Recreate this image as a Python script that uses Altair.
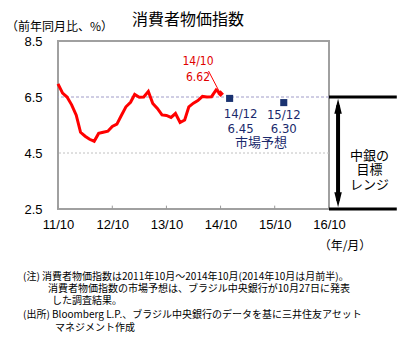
import altair as alt
import pandas as pd

# ---- data ----
months = ["2011-10", "2011-11", "2011-12",
          "2012-01", "2012-02", "2012-03", "2012-04", "2012-05", "2012-06",
          "2012-07", "2012-08", "2012-09", "2012-10", "2012-11", "2012-12",
          "2013-01", "2013-02", "2013-03", "2013-04", "2013-05", "2013-06",
          "2013-07", "2013-08", "2013-09", "2013-10", "2013-11", "2013-12",
          "2014-01", "2014-02", "2014-03", "2014-04", "2014-05", "2014-06",
          "2014-07", "2014-08", "2014-09", "2014-10"]
cpi = [6.97, 6.64, 6.50,
       6.22, 5.85, 5.24, 5.10, 4.99, 4.92,
       5.20, 5.24, 5.28, 5.45, 5.53, 5.84,
       6.15, 6.31, 6.59, 6.49, 6.50, 6.70,
       6.27, 6.09, 5.86, 5.84, 5.77, 5.91,
       5.59, 5.68, 6.15, 6.28, 6.37, 6.52,
       6.50, 6.51, 6.75, 6.62]

fc_months = ["2014-12", "2015-12"]
fc_values = [6.45, 6.30]
fc_labels = ["14/12\n6.45", "15/12\n6.30"]

year_ticks = ["2011-10", "2012-10", "2013-10", "2014-10", "2015-10", "2016-10"]
y_ticks = [2.5, 4.5, 6.5, 8.5]

target_low, target_high = 2.5, 6.5
band_x = ["2016-10", "2018-01"]
arrow_x = "2016-12"
band_text_x = "2017-07"

title = "消費者物価指数"
unit = "（前年同月比、%）"
xunit = "（年/月）"
notes = ["(注) 消費者物価指数は2011年10月～2014年10月(2014年10月は月前半)。",
         "消費者物価指数の市場予想は、ブラジル中央銀行が10月27日に発表",
         "した調査結果。",
         "(出所) Bloomberg L.P.、ブラジル中央銀行のデータを基に三井住友アセット",
         "マネジメント作成"]

W, H = 271, 168
JP = "Noto Sans CJK JP"
NUM = "Liberation Sans"
NARROW = "Liberation Sans Narrow, DejaVu Sans Condensed, Liberation Sans"

def d(m):
    return m + "-01"

df = pd.DataFrame({"date": [d(m) for m in months], "cpi": cpi})
fc = pd.DataFrame({"date": [d(m) for m in fc_months], "v": fc_values, "lab": fc_labels})
ticks_df = pd.DataFrame({"date": [d(m) for m in year_ticks]})

xscale = alt.Scale(type="utc", domain=[alt.DateTime(year=2011, month=10, date=1, utc=True),
                                      alt.DateTime(year=2016, month=10, date=1, utc=True)])
yscale = alt.Scale(domain=[2.5, 8.5], nice=False, zero=False)

X = alt.X("date:T", scale=xscale, title=None,
          axis=alt.Axis(values=[alt.DateTime(year=int(m[:4]), month=int(m[5:]), date=1, utc=True)
                                for m in year_ticks],
                        labelExpr="utcFormat(datum.value, '%y/%m')",
                        ticks=False, domain=False, grid=False, labelPadding=9,
                        labelFlush=False, labelOverlap=False,
                        labelFont=NUM, labelFontSize=13, labelColor="#000"))
Y = alt.Y("cpi:Q", scale=yscale, title=None,
          axis=alt.Axis(values=y_ticks, format=".1f", ticks=False, domain=False, grid=False,
                        labelFlush=False, labelOverlap=False,
                        labelPadding=16, labelFont=NUM, labelFontSize=13, labelColor="#000"))

base = alt.Chart(df)

grid65 = alt.Chart(pd.DataFrame({"y": [6.5]})).mark_rule(
    color="#a09cc8", strokeDash=[3, 2], strokeWidth=1).encode(y=alt.Y("y:Q", scale=yscale))
grid45 = alt.Chart(pd.DataFrame({"y": [4.5]})).mark_rule(
    color="#c0c0c0", strokeDash=[2, 2], strokeWidth=1).encode(y=alt.Y("y:Q", scale=yscale))

xticks = alt.Chart(ticks_df).mark_rule(color="#999", strokeWidth=1).encode(
    x=alt.X("date:T", scale=xscale), y=alt.datum(2.5), y2=alt.datum(2.62))

line = base.mark_line(color="#ff0000", strokeWidth=3).encode(x=X, y=Y)
endpt = alt.Chart(df.tail(1)).mark_point(shape="diamond", filled=True, size=45,
                                         color="#ff0000", opacity=1).encode(
    x=alt.X("date:T", scale=xscale), y=alt.Y("cpi:Q", scale=yscale))

fc_pts = alt.Chart(fc).mark_square(size=50, color="#1a3270", opacity=1).encode(
    x=alt.X("date:T", scale=xscale), y=alt.Y("v:Q", scale=yscale))
fc_lab1 = alt.Chart(fc.iloc[[0]]).mark_text(
    font=NARROW, fontSize=13, color="#1a2a6c", baseline="top", lineHeight=14.5, lineBreak="\n",
    dx=11, dy=10).encode(x=alt.X("date:T", scale=xscale), y=alt.Y("v:Q", scale=yscale), text="lab:N")
fc_lab2 = alt.Chart(fc.iloc[[1]]).mark_text(
    font=NARROW, fontSize=13, color="#1a2a6c", baseline="top", lineHeight=14.5, lineBreak="\n",
    dx=0, dy=6).encode(x=alt.X("date:T", scale=xscale), y=alt.Y("v:Q", scale=yscale), text="lab:N")
mkt = alt.Chart(pd.DataFrame({"t": ["市場予想"]})).mark_text(
    font=JP, fontSize=13, color="#1a2a6c").encode(
    x=alt.value(203), y=alt.value(102), text="t:N")

ann = alt.Chart(pd.DataFrame({"t": ["14/10\n6.62"]})).mark_text(
    font=NARROW, fontSize=12, color="#e00000", lineHeight=15.5, lineBreak="\n",
    baseline="middle").encode(
    x=alt.value(140), y=alt.value(20), text="t:N")
leader = alt.Chart(pd.DataFrame({"a": [0]})).mark_rule(color="#ff0000", strokeWidth=1).encode(
    x=alt.value(150.5), x2=alt.value(161.5), y=alt.value(30), y2=alt.value(51))

bands = pd.DataFrame({"x1": [d(band_x[0])] * 2, "x2": [d(band_x[1])] * 2,
                      "y": [target_high, target_low]})
band_lines = alt.Chart(bands).mark_rule(color="#000", strokeWidth=3).encode(
    x=alt.X("x1:T", scale=xscale), x2="x2:T", y=alt.Y("y:Q", scale=yscale))
arrow_df = pd.DataFrame({"x": [d(arrow_x)], "y1": [target_high - 0.3], "y2": [target_low + 0.3]})
arrow_body = alt.Chart(arrow_df).mark_rule(color="#000", strokeWidth=4).encode(
    x=alt.X("x:T", scale=xscale), y=alt.Y("y1:Q", scale=yscale), y2="y2:Q")
heads = pd.DataFrame({"x": [d(arrow_x)] * 2, "y": [target_high - 0.33, target_low + 0.33],
                      "s": ["up", "down"]})
head_up = alt.Chart(heads.iloc[[0]]).mark_point(
    shape="M0,-1L0.5,1L-0.5,1Z", size=225, filled=True, color="#000", opacity=1).encode(
    x=alt.X("x:T", scale=xscale), y=alt.Y("y:Q", scale=yscale))
head_dn = alt.Chart(heads.iloc[[1]]).mark_point(
    shape="M0,1L0.5,-1L-0.5,-1Z", size=225, filled=True, color="#000", opacity=1).encode(
    x=alt.X("x:T", scale=xscale), y=alt.Y("y:Q", scale=yscale))
band_text = alt.Chart(pd.DataFrame({"x": [d(band_text_x)], "y": [4.40],
                                    "t": ["中銀の\n目標\nレンジ"]})).mark_text(
    font=JP, fontSize=13, color="#000", lineHeight=14.5, lineBreak="\n", baseline="middle").encode(
    x=alt.X("x:T", scale=xscale), y=alt.Y("y:Q", scale=yscale), text="t:N")

def txt(t, x, y, size, align="left", color="#000"):
    return alt.Chart(pd.DataFrame({"t": [t]})).mark_text(
        font=JP, fontSize=size, color=color, align=align, baseline="middle").encode(
        x=alt.value(x), y=alt.value(y), text="t:N")

title_t = txt(title, 130, -21, 16, align="center")
unit_t = txt(unit, -52, -14, 12)
xunit_t = txt(xunit, 287, 204.5, 12, align="center")
note_y = [235.5, 248, 259.5, 274, 286.5]
note_x = [-35, -10, -6, -35, -3]
note_layers = [txt(n, x, y, 10) for n, x, y in zip(notes, note_x, note_y)]

chart = alt.layer(
    grid45, grid65, xticks, line, endpt, fc_pts, fc_lab1, fc_lab2, mkt, ann, leader,
    band_lines, arrow_body, head_up, head_dn, band_text,
    title_t, unit_t, xunit_t, *note_layers
).properties(
    width=W, height=H,
    autosize=alt.AutoSizeParams(type="none"),
    padding={"left": 58, "top": 41, "right": 80, "bottom": 132},
    background="white",
).configure_view(stroke="#a0a0a0", strokeWidth=2)

chart.save("out.html", embed_options={"renderer": "svg", "actions": False})
